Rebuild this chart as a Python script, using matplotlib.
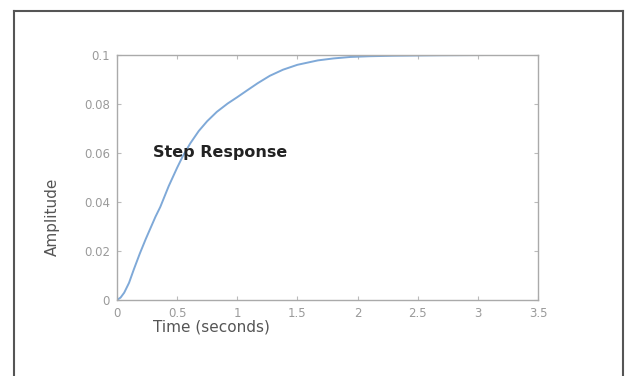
import matplotlib
matplotlib.use("Agg")
import matplotlib.pyplot as plt
from matplotlib.lines import Line2D

# Data
time_s = [0.0, 0.03, 0.06, 0.1, 0.14, 0.19, 0.24, 0.28, 0.32, 0.36, 0.43, 0.5,
          0.55, 0.61, 0.68, 0.75, 0.83, 0.92, 1.0, 1.08, 1.17, 1.27, 1.38, 1.5,
          1.67, 1.8, 1.94, 2.1, 2.3, 2.5, 2.7, 2.9, 3.1]
amplitude = [0.0, 0.001, 0.003, 0.007, 0.0125, 0.019, 0.025, 0.0295, 0.034, 0.038,
             0.0465, 0.054, 0.059, 0.064, 0.069, 0.073, 0.0768, 0.0802, 0.0828, 0.0855,
             0.0885, 0.0915, 0.094, 0.096, 0.0978, 0.0986, 0.0992, 0.0995, 0.0997,
             0.0998, 0.0999, 0.09995, 0.1]
xticks = [0, 0.5, 1, 1.5, 2, 2.5, 3, 3.5]
xtick_labels = ["0", "0.5", "1", "1.5", "2", "2.5", "3", "3.5"]
yticks = [0, 0.02, 0.04, 0.06, 0.08, 0.1]
ytick_labels = ["0", "0.02", "0.04", "0.06", "0.08", "0.1"]

W, H = 628, 376
fig = plt.figure(figsize=(W / 100, H / 100), dpi=100)
fig.patch.set_facecolor("white")

# outer frame (bottom edge runs off the image)
frame_col = "#555555"
fig.add_artist(Line2D([14 / W, 14 / W], [0, 1 - 11 / H], transform=fig.transFigure,
                      color=frame_col, lw=1.5))
fig.add_artist(Line2D([14 / W, 623 / W], [1 - 11 / H, 1 - 11 / H], transform=fig.transFigure,
                      color=frame_col, lw=1.5))
fig.add_artist(Line2D([623 / W, 623 / W], [0, 1 - 11 / H], transform=fig.transFigure,
                      color=frame_col, lw=1.5))

ax = fig.add_axes([117 / W, (H - 300) / H, (538 - 117) / W, (300 - 55) / H])
ax.plot(time_s, amplitude, color="#7fa9d8", lw=1.4)
ax.set_xlim(0, 3.5)
ax.set_ylim(0, 0.1)
ax.set_xticks(xticks)
ax.set_xticklabels(xtick_labels)
ax.set_yticks(yticks)
ax.set_yticklabels(ytick_labels)

grey = "#9a9a9a"
for s in ax.spines.values():
    s.set_color("#aaaaaa")
    s.set_linewidth(1.0)
ax.tick_params(direction="in", length=3, width=0.8, colors="#bbbbbb",
               labelcolor=grey, labelsize=8.5, top=True, right=True, pad=5)

ax.text(0.3, 0.06, "Step Response", fontsize=11.5, fontweight="bold",
        color="#222222", ha="left", va="center")

fig.text(153 / W, 1 - 327 / H, "Time (seconds)", fontsize=11, color="#555555",
         ha="left", va="center")
fig.text(52 / W, 1 - 217 / H, "Amplitude", fontsize=11, color="#555555",
         ha="center", va="center", rotation=90)

fig.savefig("out.png", dpi=100)
